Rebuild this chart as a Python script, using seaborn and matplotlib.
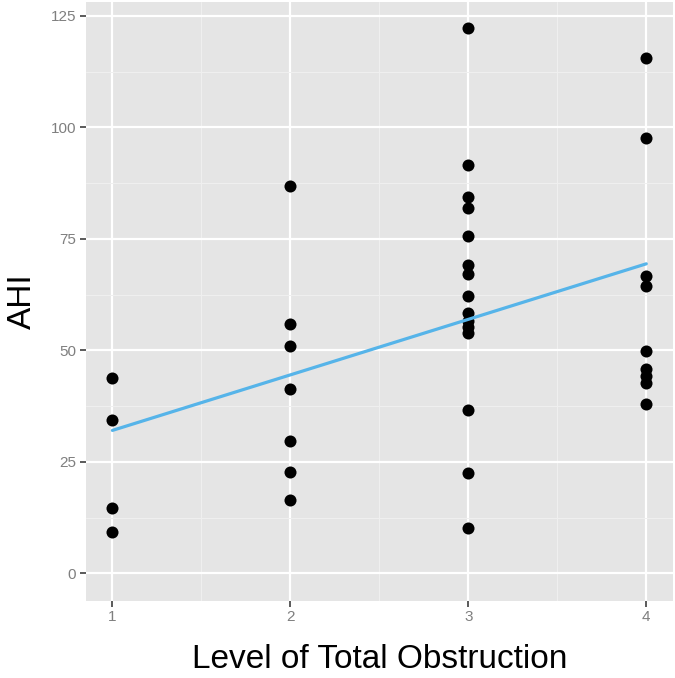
import matplotlib
matplotlib.use("Agg")
import matplotlib.pyplot as plt
import seaborn as sns
import pandas as pd

# Level of total obstruction (x) and AHI (y)
level_1 = [43.9, 34.3, 14.6, 9.4]
level_2 = [86.8, 56.0, 51.1, 41.3, 29.7, 22.8, 16.5]
level_3 = [122.2, 91.6, 84.3, 81.9, 75.6, 69.1, 67.2, 62.1, 58.5, 56.5, 55.3, 54.0, 36.7, 22.5, 10.3]
level_4 = [115.5, 97.7, 66.7, 64.5, 49.9, 45.8, 44.3, 42.8, 37.9]

x_ticks = [1, 2, 3, 4]
y_ticks = [0, 25, 50, 75, 100, 125]

levels = [1] * len(level_1) + [2] * len(level_2) + [3] * len(level_3) + [4] * len(level_4)
ahi = level_1 + level_2 + level_3 + level_4
df = pd.DataFrame({"level": levels, "AHI": ahi})

sns.set_theme(style="darkgrid", rc={
    "axes.facecolor": "#E5E5E5",
    "grid.color": "white",
    "axes.edgecolor": "#E5E5E5",
})
plt.rcParams["font.family"] = ["Liberation Sans", "DejaVu Sans"]

fig, ax = plt.subplots(figsize=(6.75, 6.78), dpi=100)
fig.subplots_adjust(left=0.127, right=0.997, top=0.997, bottom=0.114)

sns.regplot(data=df, x="level", y="AHI", ci=None, ax=ax,
            scatter_kws={"s": 75, "color": "black", "alpha": 1, "linewidths": 0},
            line_kws={"color": "#56B4E9", "linewidth": 2.3})

ax.set_xlim(0.85, 4.15)
ax.set_ylim(-6.1, 128.1)
ax.set_xticks(x_ticks)
ax.set_yticks(y_ticks)
ax.set_xticks([1.5, 2.5, 3.5], minor=True)
ax.set_yticks([12.5, 37.5, 62.5, 87.5, 112.5], minor=True)
ax.grid(which="major", color="white", linewidth=1.6)
ax.grid(which="minor", color="#F0F0F0", linewidth=0.7)
ax.set_axisbelow(True)
for s in ax.spines.values():
    s.set_visible(False)

ax.tick_params(axis="both", which="major", length=4, width=1.3, color="#4D4D4D",
               labelsize=11, labelcolor="#7F7F7F", pad=3, bottom=True, left=True)
ax.tick_params(axis="both", which="minor", length=0)

ax.set_xlabel("Level of Total Obstruction", fontsize=24, color="black", labelpad=14)
ax.set_ylabel("AHI", fontsize=24, color="black", labelpad=9)

fig.savefig("out.png", dpi=100)
